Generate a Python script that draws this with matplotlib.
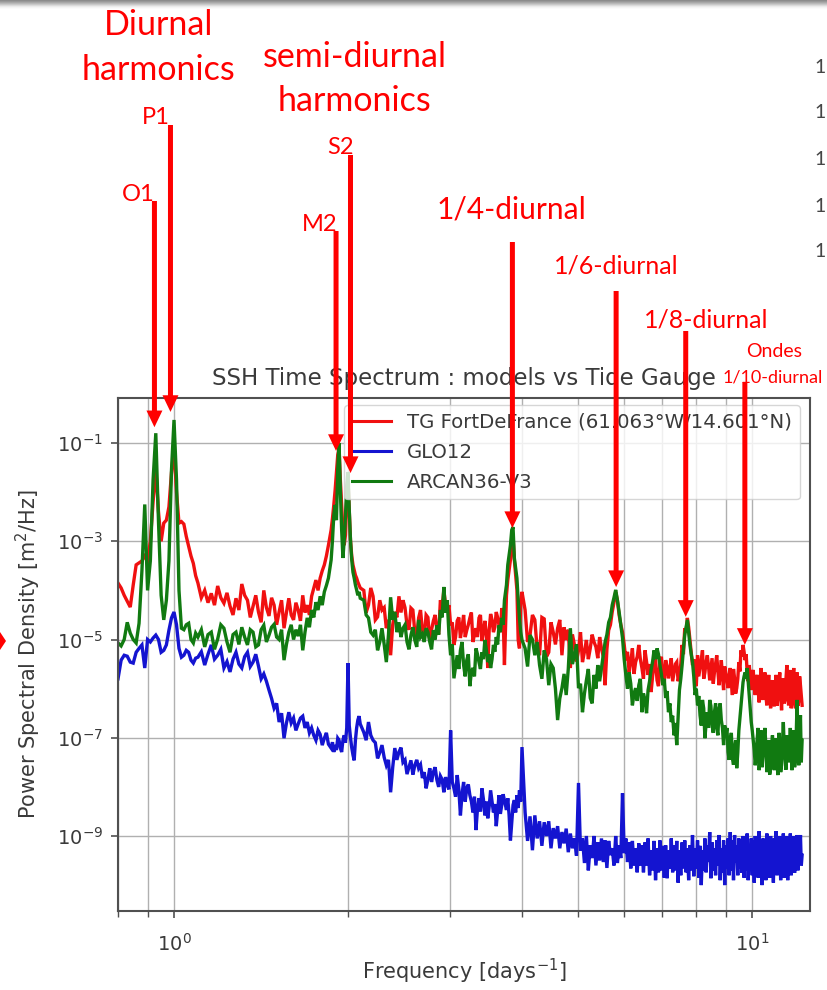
import numpy as np
import matplotlib
matplotlib.use("Agg")
import matplotlib.pyplot as plt
from matplotlib.ticker import FixedLocator, NullLocator, NullFormatter, LogLocator
from matplotlib.patches import Polygon, Rectangle

# ---------------- data ----------------
# frequency grid in cycles per day
freq = [
    # diurnal band
    0.80, 0.81, 0.82, 0.83, 0.84, 0.85, 0.86, 0.87, 0.88, 0.89, 0.90, 0.91, 0.92, 0.93, 0.94, 0.95,
    0.96, 0.97, 0.98, 0.99, 1.00, 1.01, 1.02, 1.03, 1.04, 1.05, 1.06, 1.07, 1.08, 1.09, 1.10,
    # between diurnal and semi-diurnal
    1.115, 1.13, 1.145, 1.16, 1.175, 1.19, 1.205, 1.22, 1.235, 1.25, 1.265, 1.28, 1.295, 1.31, 1.325,
    1.34, 1.355, 1.37, 1.385, 1.40, 1.415, 1.43, 1.445, 1.46, 1.475, 1.49, 1.505, 1.52, 1.535, 1.55,
    1.565, 1.58, 1.595, 1.61, 1.625, 1.64, 1.655, 1.67, 1.685, 1.70, 1.715, 1.73, 1.745, 1.76, 1.775,
    1.79, 1.805, 1.82, 1.835, 1.85,
    # semi-diurnal band
    1.87, 1.88, 1.89, 1.90, 1.91, 1.92, 1.93, 1.94, 1.95, 1.96, 1.97, 1.98, 1.99, 2.00, 2.01,
    2.02, 2.03, 2.04, 2.05, 2.06, 2.07, 2.08, 2.09, 2.10,
    # between semi-diurnal and quarter-diurnal
    2.13, 2.15, 2.17, 2.19, 2.21, 2.23, 2.25, 2.27, 2.29, 2.31, 2.33, 2.35, 2.37, 2.39, 2.41, 2.43,
    2.45, 2.47, 2.49, 2.51, 2.53, 2.55, 2.57, 2.59, 2.61, 2.63, 2.65, 2.67, 2.69, 2.71, 2.73, 2.75,
    2.77, 2.79, 2.81, 2.83, 2.85, 2.87, 2.89, 2.91, 2.93, 2.95, 2.97, 2.99, 3.01, 3.03, 3.05, 3.07,
    3.09, 3.11, 3.13, 3.15, 3.17, 3.19, 3.21, 3.23, 3.25, 3.27, 3.29, 3.31, 3.33, 3.35, 3.37, 3.39,
    3.41, 3.43, 3.45, 3.47, 3.49, 3.51, 3.53, 3.55, 3.57, 3.59, 3.61, 3.63, 3.65, 3.67, 3.69, 3.71, 3.73,
    # quarter-diurnal band
    3.76, 3.78, 3.80, 3.82, 3.84, 3.86, 3.88, 3.90, 3.92, 3.94, 3.96, 3.98, 4.00,
    # high frequencies
    4.05, 4.09, 4.13, 4.17, 4.21, 4.25, 4.29, 4.33, 4.37, 4.41,
    4.45, 4.49, 4.53, 4.57, 4.61, 4.65, 4.69, 4.73, 4.77, 4.81,
    4.85, 4.89, 4.93, 4.97, 5.01, 5.05, 5.09, 5.13, 5.17, 5.21,
    5.25, 5.29, 5.33, 5.37, 5.41, 5.45, 5.49, 5.53, 5.57, 5.61,
    5.65, 5.69, 5.73, 5.77, 5.81, 5.85, 5.89, 5.93, 5.97, 6.01,
    6.05, 6.09, 6.13, 6.17, 6.21, 6.25, 6.29, 6.33, 6.37, 6.41,
    6.45, 6.49, 6.53, 6.57, 6.61, 6.65, 6.69, 6.73, 6.77, 6.81,
    6.85, 6.89, 6.93, 6.97, 7.01, 7.05, 7.09, 7.13, 7.17, 7.21,
    7.25, 7.29, 7.33, 7.37, 7.41, 7.45, 7.49, 7.53, 7.57, 7.61,
    7.65, 7.69, 7.73, 7.77, 7.81, 7.85, 7.89, 7.93, 7.97, 8.01,
    8.05, 8.09, 8.13, 8.17, 8.21, 8.25, 8.29, 8.33, 8.37, 8.41,
    8.45, 8.49, 8.53, 8.57, 8.61, 8.65, 8.69, 8.73, 8.77, 8.81,
    8.85, 8.89, 8.93, 8.97, 9.01, 9.05, 9.09, 9.13, 9.17, 9.21,
    9.25, 9.29, 9.33, 9.37, 9.41, 9.45, 9.49, 9.53, 9.57, 9.61,
    9.65, 9.69, 9.73, 9.77, 9.81, 9.85, 9.89, 9.93, 9.97, 10.01,
    10.05, 10.09, 10.13, 10.17, 10.21, 10.25, 10.29, 10.33, 10.37, 10.41,
    10.45, 10.49, 10.53, 10.57, 10.61, 10.65, 10.69, 10.73, 10.77, 10.81,
    10.85, 10.89, 10.93, 10.97, 11.01, 11.05, 11.09, 11.13, 11.17, 11.21,
    11.25, 11.29, 11.33, 11.37, 11.41, 11.45, 11.49, 11.53, 11.57, 11.61,
    11.65, 11.69, 11.73, 11.77, 11.81, 11.85, 11.89, 11.93, 11.97, 12.01,
    12.05, 12.09, 12.13, 12.17, 12.21,
]

# log10 of the power spectral density [m^2/Hz]
tg_log_psd = [
    -3.85, -3.95, -4.10, -4.22, -4.34, -3.89, -3.48, -3.44, -3.40, -3.30, -3.40, -3.00, -2.20, -1.50, -2.40, -3.00,
    -2.63, -2.57, -2.30, -1.60, -1.10, -2.00, -2.63, -2.60, -2.65, -2.90, -3.10, -3.30, -3.45, -3.70, -3.85,
    -4.15, -4.00, -4.25, -4.06, -4.30, -3.91, -4.15, -4.26, -4.05, -4.32, -4.50, -4.16, -4.40, -3.87, -4.10,
    -4.20, -4.55, -4.32, -4.10, -4.44, -4.65, -4.00, -4.35, -4.52, -4.15, -4.30, -4.70, -4.44, -4.20, -4.77,
    -4.45, -4.16, -4.50, -4.60, -4.25, -4.40, -4.62, -4.10, -4.45, -4.30, -4.50, -4.12, -3.95, -3.79, -4.00,
    -3.75, -3.60, -3.48, -3.30, -3.08,
    -2.77, -2.53, -2.26, -1.96, -1.59, -1.24, -1.10, -1.75, -2.26, -2.77, -3.08, -2.87, -2.16, -1.75, -2.36,
    -2.98, -3.30, -3.48, -3.59, -3.69, -3.75, -3.83, -3.89, -3.95,
    -4.00, -4.45, -4.30, -3.95, -4.12, -4.60, -4.54, -4.20, -4.40, -4.35, -4.77, -4.60, -5.32, -4.70, -4.44, -4.55,
    -4.12, -4.45, -4.20, -4.35, -4.71, -4.80, -4.36, -4.40, -4.85, -4.95, -4.56, -4.40, -4.81, -4.95, -4.50, -4.55,
    -5.03, -4.80, -4.62, -4.50, -4.81, -4.90, -4.20, -4.35, -3.99, -4.30, -4.44, -4.30, -4.71, -4.65, -5.11, -4.95,
    -4.62, -4.55, -4.97, -4.75, -4.50, -4.95, -4.81, -4.70, -4.56, -4.45, -5.05, -4.90, -4.77, -4.95, -4.56, -4.50,
    -5.03, -4.85, -4.62, -4.90, -5.58, -4.80, -4.48, -4.60, -4.85, -4.75, -4.44, -4.55, -4.71, -4.85, -4.36, -4.50, -5.52,
    -4.10, -3.79, -3.59, -3.38, -3.08, -2.87, -3.38, -3.69, -3.99, -5.01, -5.18, -4.20, -4.03,
    -4.40, -5.05, -4.91, -4.50, -4.60, -5.20, -5.32, -4.55, -4.58, -5.35,
    -5.26, -4.65, -4.85, -5.10, -4.77, -4.60, -5.32, -4.75, -5.01, -4.80,
    -5.58, -4.90, -5.11, -5.45, -5.22, -4.85, -5.46, -5.25, -5.01, -5.40,
    -5.18, -4.90, -5.05, -5.15, -5.38, -4.95, -5.18, -5.35, -5.93, -5.20,
    -4.81, -4.70, -4.44, -4.25, -4.03, -4.20, -4.50, -4.70, -4.85, -5.10,
    -5.42, -5.25, -5.67, -5.45, -5.18, -5.70, -5.46, -5.35, -5.11, -5.40,
    -5.58, -5.80, -5.22, -5.45, -5.72, -5.50, -6.07, -5.75, -5.52, -5.40,
    -5.83, -5.95, -5.46, -5.35, -5.72, -5.90, -5.42, -5.55, -5.79, -5.60,
    -5.38, -5.85, -5.67, -5.50, -5.46, -5.85, -5.72, -5.50, -5.11, -5.30,
    -4.77, -4.85, -4.56, -4.75, -5.01, -5.25, -5.52, -5.40, -5.79, -5.95,
    -5.32, -5.75, -5.58, -5.40, -5.22, -5.80, -5.67, -5.45, -5.32, -5.55,
    -5.83, -5.60, -5.38, -5.90, -5.67, -5.50, -5.32, -5.65, -5.93, -5.70,
    -5.42, -5.75, -6.03, -5.55, -5.67, -5.80, -5.99, -5.75, -5.58, -5.90,
    -6.13, -5.60, -5.79, -6.10, -5.99, -5.80, -5.46, -5.65, -5.22, -5.35,
    -5.11, -5.25, -5.42, -5.30, -5.67, -5.85, -5.52, -5.75, -6.03, -5.70,
    -5.62, -5.95, -6.13, -5.80, -5.72, -6.05, -6.28, -5.85, -5.58, -6.10,
    -6.23, -5.90, -5.67, -6.15, -6.34, -5.95, -5.72, -6.10, -6.40, -5.90,
    -5.83, -6.20, -6.36, -6.00, -5.72, -6.35, -6.19, -5.85, -5.67, -6.10,
    -6.44, -5.95, -5.79, -6.30, -6.23, -5.80, -5.52, -6.10, -6.34, -5.90,
    -5.62, -6.40, -6.28, -5.80, -5.58, -6.20, -6.40, -5.95, -5.67, -6.35,
    -6.23, -5.75, -5.93, -6.15, -6.34,
]

glo12_log_psd = [
    -5.80, -5.42, -5.32, -5.34, -5.46, -5.48, -5.26, -5.18, -5.11, -5.58, -5.00, -5.05, -4.97, -4.91, -5.00, -5.26,
    -5.22, -5.11, -4.81, -4.56, -4.44, -4.70, -5.18, -5.36, -5.32, -5.22, -5.26, -5.42, -5.48, -5.38, -5.36,
    -5.25, -5.52, -5.30, -5.11, -5.40, -5.32, -5.20, -5.58, -5.45, -5.66, -5.40, -5.26, -5.50, -5.58, -5.35,
    -5.26, -5.55, -5.46, -5.30, -5.54, -5.80, -5.70, -5.85, -6.03, -6.20, -6.40, -6.30, -6.68, -6.50, -7.01,
    -6.70, -6.48, -6.70, -6.60, -6.85, -6.72, -6.60, -6.56, -6.80, -6.68, -6.90, -6.80, -6.95, -7.05, -6.85,
    -6.93, -7.15, -7.01, -6.90, -7.13,
    -7.21, -7.09, -7.29, -7.15, -7.25, -7.01, -7.05, -7.21, -7.29, -7.05, -6.95, -7.10, -6.80, -5.48, -6.75,
    -7.00, -7.20, -7.35, -7.46, -7.05, -6.80, -6.64, -6.56, -6.72,
    -6.89, -7.05, -6.68, -6.95, -7.05, -7.10, -7.42, -7.30, -7.15, -7.40, -7.56, -7.45, -8.11, -7.60, -7.21, -7.45,
    -7.29, -7.20, -7.50, -7.45, -7.74, -7.60, -7.46, -7.75, -7.56, -7.45, -7.62, -7.55, -7.82, -7.70, -8.03, -7.85,
    -7.62, -7.90, -7.70, -7.60, -7.86, -8.00, -7.78, -7.85, -8.11, -7.80, -7.97, -8.05, -6.85, -7.90, -8.03, -8.20,
    -7.76, -8.05, -8.58, -8.15, -7.90, -8.30, -8.03, -7.95, -8.17, -8.30, -8.52, -8.20, -8.88, -8.45, -8.23, -8.50,
    -8.03, -8.25, -8.58, -8.30, -8.64, -8.40, -8.07, -8.30, -8.52, -8.35, -8.80, -8.50, -8.17, -8.55, -8.37, -8.15, -8.27,
    -8.47, -8.23, -8.58, -9.09, -8.72, -8.37, -8.27, -8.52, -8.17, -8.43, -8.07, -8.30, -7.19,
    -8.52, -9.10, -8.60, -9.29, -8.58, -9.05, -8.70, -9.20, -8.72, -9.00,
    -8.70, -9.25, -8.84, -9.05, -8.80, -9.25, -8.92, -9.15, -8.85, -9.33,
    -8.95, -9.25, -9.05, -9.40, -7.92, -9.30, -9.05, -9.55, -9.00, -9.70,
    -9.19, -9.45, -9.00, -9.60, -9.13, -9.50, -9.05, -9.53, -9.09, -9.65,
    -9.10, -9.39, -9.25, -9.60, -9.00, -9.55, -9.19, -9.45, -8.13, -9.35,
    -9.05, -9.53, -9.13, -9.66, -9.10, -9.60, -9.25, -9.74, -9.15, -9.60,
    -9.19, -9.74, -9.13, -9.60, -9.05, -9.80, -9.29, -9.70, -9.10, -9.90,
    -9.25, -9.74, -9.09, -9.70, -9.20, -9.85, -9.19, -9.86, -9.29, -9.66,
    -9.05, -9.74, -9.19, -9.70, -9.10, -9.95, -9.29, -9.80, -9.13, -9.66,
    -9.09, -9.74, -9.25, -9.90, -9.19, -9.70, -8.98, -9.82, -9.25, -9.66,
    -9.09, -9.85, -9.20, -10.00, -9.29, -9.70, -9.05, -9.74, -9.19, -9.53,
    -8.92, -9.86, -9.13, -9.70, -9.25, -9.80, -9.09, -9.60, -8.98, -9.90,
    -9.25, -9.74, -9.09, -10.00, -9.19, -9.66, -9.05, -9.80, -8.92, -9.70,
    -9.09, -9.90, -8.98, -9.53, -9.19, -9.80, -9.05, -9.66, -9.09, -9.75,
    -9.00, -9.85, -9.15, -9.70, -8.95, -9.90, -9.20, -9.60, -9.05, -9.80,
    -9.10, -9.95, -9.00, -9.70, -9.20, -9.85, -8.90, -9.75, -9.15, -10.00,
    -9.05, -9.70, -9.20, -9.90, -8.95, -9.65, -9.10, -9.85, -9.00, -9.75,
    -9.20, -9.95, -9.05, -9.70, -8.90, -9.80, -9.15, -9.60, -9.00, -9.90,
    -9.10, -9.75, -8.95, -9.85, -9.20, -9.65, -9.00, -9.90, -9.10, -9.70,
    -8.95, -9.80, -9.15, -9.60, -9.00, -9.75, -9.10, -9.55, -8.98, -9.70,
    -9.05, -9.49, -8.98, -9.60, -9.39,
]

arcan_log_psd = [
    -5.07, -5.13, -5.00, -4.65, -4.87, -5.00, -5.07, -4.67, -3.60, -2.25, -4.00, -3.40, -1.75, -0.80, -2.60, -4.10,
    -4.60, -4.20, -3.40, -1.55, -0.53, -1.75, -4.00, -4.77, -4.80, -4.70, -4.67, -5.00, -5.07, -4.87, -4.95,
    -4.80, -5.15, -4.90, -4.85, -5.20, -4.99, -4.70, -4.77, -5.05, -5.26, -4.90, -4.85, -5.10, -4.75, -4.95,
    -5.11, -4.80, -4.85, -5.15, -5.11, -4.80, -4.71, -5.05, -4.91, -4.75, -4.69, -4.95, -5.00, -4.80, -5.42,
    -5.10, -4.85, -4.70, -5.00, -4.80, -4.93, -4.70, -5.22, -4.85, -4.56, -4.75, -4.40, -4.55, -4.24, -4.40,
    -4.12, -4.30, -4.03, -3.90, -3.75,
    -3.38, -2.98, -2.47, -2.26, -2.57, -1.55, -1.00, -1.96, -2.77, -3.34, -2.98, -2.47, -1.85, -1.59, -2.36,
    -2.98, -3.38, -3.63, -3.75, -3.89, -3.99, -4.10, -4.03, -4.16,
    -4.20, -4.50, -4.56, -4.85, -4.91, -4.80, -5.22, -5.05, -4.77, -5.10, -5.46, -4.90, -4.14, -4.60, -4.44, -4.85,
    -4.65, -4.95, -4.77, -4.70, -5.05, -5.20, -4.91, -4.75, -5.01, -5.15, -4.60, -4.95, -4.89, -5.05, -4.77, -4.85,
    -5.05, -5.20, -4.81, -5.00, -4.71, -4.90, -4.40, -4.55, -3.93, -4.45, -4.20, -4.90, -5.32, -5.10, -5.79, -5.55,
    -5.32, -5.60, -5.22, -5.05, -5.52, -5.75, -5.42, -5.30, -5.95, -5.65, -5.58, -5.75, -5.18, -5.30, -5.46, -5.60,
    -5.26, -5.40, -5.01, -5.20, -5.46, -5.30, -5.58, -5.40, -5.11, -5.25, -4.95, -5.10, -4.71, -4.85, -4.56, -4.70, -4.20,
    -3.89, -3.48, -3.28, -3.08, -2.77, -2.71, -3.34, -3.55, -3.75, -4.20, -4.56, -4.85, -5.01,
    -5.18, -5.55, -4.91, -5.00, -5.32, -5.05, -5.52, -5.80, -5.22, -5.40,
    -5.93, -5.50, -5.58, -6.00, -6.64, -6.20, -5.99, -5.70, -6.13, -5.60,
    -4.77, -5.50, -5.32, -5.10, -5.99, -5.90, -6.48, -6.10, -5.83, -5.60,
    -6.19, -6.30, -5.72, -6.00, -5.52, -5.85, -5.58, -5.30, -5.05, -4.90,
    -4.65, -4.55, -4.30, -4.15, -3.99, -4.20, -4.44, -4.70, -4.97, -5.40,
    -5.72, -6.00, -5.67, -5.90, -6.34, -6.10, -5.99, -6.25, -5.93, -5.80,
    -6.48, -6.10, -6.23, -6.50, -6.03, -5.85, -5.62, -5.45, -5.22, -5.40,
    -5.18, -5.30, -5.52, -5.70, -5.93, -5.80, -6.19, -6.05, -6.48, -6.30,
    -6.68, -6.55, -6.95, -6.70, -7.15, -6.60, -6.03, -5.80, -5.52, -5.20,
    -4.91, -4.75, -4.60, -4.85, -5.11, -5.30, -5.46, -5.75, -6.13, -6.00,
    -6.34, -6.15, -6.54, -6.75, -6.23, -6.40, -7.01, -6.70, -6.48, -6.80,
    -6.23, -6.35, -6.74, -6.90, -6.48, -6.30, -6.80, -6.95, -6.40, -6.30,
    -6.64, -6.80, -7.15, -6.75, -6.95, -6.80, -7.29, -7.45, -7.05, -6.90,
    -7.42, -7.55, -7.21, -7.05, -7.62, -7.30, -6.85, -6.60, -6.34, -6.10,
    -5.87, -5.75, -5.67, -5.80, -5.58, -5.85, -6.13, -6.40, -6.68, -6.85,
    -7.05, -7.25, -7.56, -7.35, -7.01, -6.80, -7.66, -7.20, -6.85, -7.60,
    -7.35, -7.00, -6.80, -7.20, -7.70, -7.30, -7.05, -7.75, -7.62, -7.20,
    -6.95, -7.40, -7.66, -7.10, -7.01, -7.55, -7.76, -6.90, -7.09, -7.70,
    -7.56, -7.10, -6.68, -7.20, -7.42, -7.65, -6.95, -7.05, -7.50, -7.25,
    -6.80, -7.30, -7.66, -7.05, -6.85, -7.60, -7.46, -6.90, -6.23, -7.20,
    -7.56, -7.00, -6.54, -7.50, -7.05,
]

series_labels = ["TG FortDeFrance (61.063°W/14.601°N)", "GLO12", "ARCAN36-V3"]
series_colors = ["#f01010", "#1414d0", "#117a11"]

# tidal annotations (overlay): arrow frequency, PSD at arrow tip, arrow top (px from top)
arrow_freq = [0.925, 0.986, 1.907, 2.02, 3.85, 5.82, 7.68, 9.72]
arrow_tip_psd = [0.21, 0.43, 0.069, 0.0245, 1.86e-3, 1.17e-4, 2.9e-5, 7.8e-6]
arrow_top_px = [201, 125, 231, 155, 242, 291, 331, 382]

assert len(freq) == len(tg_log_psd) == len(glo12_log_psd) == len(arcan_log_psd), (
    len(freq), len(tg_log_psd), len(glo12_log_psd), len(arcan_log_psd))

# ---------------- figure ----------------
W, H = 827, 990
fig = plt.figure(figsize=(W / 100, H / 100), dpi=100)
fig.patch.set_facecolor("white")

ax_l, ax_r, ax_t, ax_b = 118, 810, 398, 911
ax = fig.add_axes([ax_l / W, (H - ax_b) / H, (ax_r - ax_l) / W, (ax_b - ax_t) / H])
ax.set_xscale("log")
ax.set_yscale("log")

f = np.array(freq)
for vals, lab, col, z in zip([tg_log_psd, glo12_log_psd, arcan_log_psd], series_labels, series_colors, [2.0, 2.1, 2.2]):
    ax.plot(f, 10.0 ** np.array(vals), color=col, lw=2.4, label=lab, zorder=z, solid_joinstyle="miter")

ax.set_xlim(0.80, 12.6)
ax.set_ylim(10 ** -10.527, 10 ** -0.083)

ax.yaxis.set_major_locator(FixedLocator([1e-1, 1e-3, 1e-5, 1e-7, 1e-9]))
ax.yaxis.set_minor_locator(NullLocator())
ax.xaxis.set_major_locator(LogLocator(base=10))
ax.xaxis.set_minor_locator(LogLocator(base=10, subs=(2, 3, 4, 5, 6, 7, 8, 9), numticks=20))
ax.xaxis.set_minor_formatter(NullFormatter())

txt_col = "#3a3a3a"
ax.grid(True, which="major", color="#b0b0b0", lw=1.0)
ax.grid(True, which="minor", axis="x", color="#b0b0b0", lw=1.0)
ax.set_axisbelow(True)
for s in ax.spines.values():
    s.set_color("#505050")
    s.set_linewidth(1.5)
ax.tick_params(axis="both", which="major", length=5, width=1.2, color="#505050",
               labelsize=14, labelcolor=txt_col, pad=6)
ax.tick_params(axis="x", which="minor", length=4, width=1.0, color="#505050")
ax.tick_params(axis="x", which="major", pad=11)

ax.set_title("SSH Time Spectrum : models vs Tide Gauge", fontsize=16.5, color=txt_col, pad=9)
ax.set_xlabel("Frequency [days$^{-1}$]", fontsize=15, color=txt_col, labelpad=1)
ax.set_ylabel("Power Spectral Density [m$^2$/Hz]", fontsize=15, color=txt_col, labelpad=10)

leg = ax.legend(loc="upper right", bbox_to_anchor=((800 - ax_l) / (ax_r - ax_l), (ax_b - 405) / (ax_b - ax_t)),
                borderaxespad=0, fontsize=14.2, labelspacing=0.55, handlelength=2.0,
                handletextpad=0.8, borderpad=0.4, framealpha=0.8, edgecolor="0.8", fancybox=True)
for t in leg.get_texts():
    t.set_color(txt_col)
for lh in leg.get_lines():
    lh.set_linewidth(2.2)

# ---------------- slide overlay: arrows ----------------
for fr, tip, top in zip(arrow_freq, arrow_tip_psd, arrow_top_px):
    ax.annotate("", xy=(fr, tip), xycoords="data",
                xytext=(fr, H - top), textcoords=("data", "figure pixels"),
                arrowprops=dict(width=3.6, headwidth=11.5, headlength=12, shrink=0,
                                facecolor="#ff0000", edgecolor="none", lw=0),
                annotation_clip=False, zorder=20)

# ---------------- slide overlay: labels ----------------
red = "#ff0000"
ofont = "Lato"
def slide_text(x, y, s, size, ha="center"):
    fig.text(x / W, 1 - y / H, s, ha=ha, va="baseline", fontsize=size, color=red, family=ofont)

slide_text(159, 35, "Diurnal", 24.5)
slide_text(159, 80, "harmonics", 24.5)
slide_text(355, 67, "semi-diurnal", 24.5)
slide_text(355, 111, "harmonics", 24.5)
slide_text(156, 124, "P1", 17)
slide_text(138, 201, "O1", 17)
slide_text(340, 154, "S2", 17)
slide_text(320, 231, "M2", 17)
slide_text(511, 218, "1/4-diurnal", 21.5)
slide_text(616, 273, "1/6-diurnal", 18)
slide_text(706, 327, "1/8-diurnal", 18)
slide_text(774, 357, "Ondes", 14)
slide_text(723, 383, "1/10-diurnal", 13, ha="left")

# ---------------- slide overlay: edge fragments ----------------
for i, g in enumerate([0.55, 0.6, 0.66, 0.72, 0.79, 0.86, 0.92, 0.96, 0.985]):
    fig.patches.append(Rectangle((0, 1 - (i + 1) / H), 1, 1 / H, transform=fig.transFigure,
                                 facecolor=(g, g, g), edgecolor="none", zorder=30))
for yb in [73, 118, 165, 212, 257]:
    fig.text(814 / W, 1 - yb / H, "1", fontsize=14, color="#454545", family=ofont, va="baseline")
fig.patches.append(Polygon([(0, 1 - 632 / H), (6 / W, 1 - 641 / H), (0, 1 - 650 / H)],
                           closed=True, transform=fig.transFigure, facecolor=red, edgecolor="none"))

fig.savefig("out.png", dpi=100, facecolor="white")
